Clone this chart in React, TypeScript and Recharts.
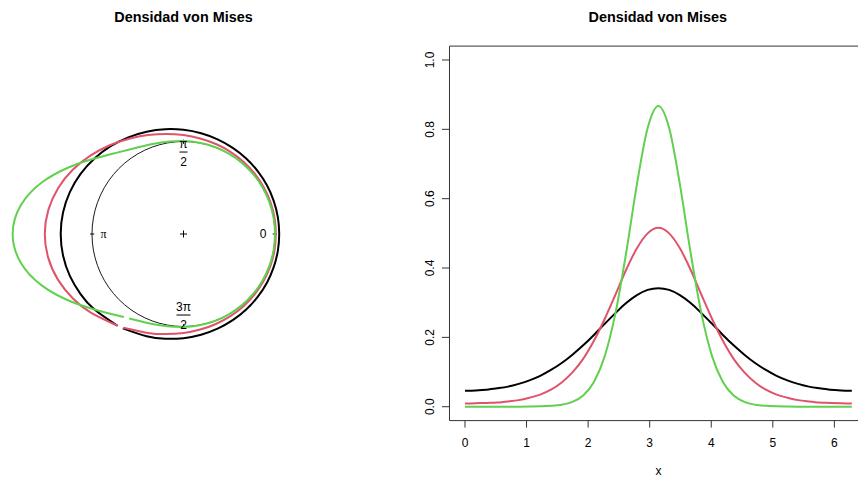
import {
  LineChart,
  Line,
  XAxis,
  YAxis,
  ReferenceArea,
  ReferenceDot,
  ReferenceLine,
} from "recharts";

// angles (degrees) where the densities were read, 0..360 every 10°
const DEG = [
  0, 10, 20, 30, 40, 50, 60, 70, 80, 90, 100, 110, 120, 130, 140, 150, 160, 170,
  180, 190, 200, 210, 220, 230, 240, 250, 260, 270, 280, 290, 300, 310, 320,
  330, 340, 350, 360,
];

// von Mises densities, mu = pi (black, red, green curves)
const DENS_BLACK = [
  0.046, 0.047, 0.049, 0.053, 0.058, 0.066, 0.076, 0.089, 0.106, 0.126, 0.15,
  0.177, 0.207, 0.239, 0.27, 0.299, 0.322, 0.337, 0.342, 0.337, 0.322, 0.299,
  0.27, 0.239, 0.207, 0.177, 0.15, 0.126, 0.106, 0.089, 0.076, 0.066, 0.058,
  0.053, 0.049, 0.047, 0.046,
];
const DENS_RED = [
  0.009, 0.01, 0.011, 0.012, 0.015, 0.019, 0.026, 0.035, 0.049, 0.07, 0.099,
  0.138, 0.19, 0.253, 0.323, 0.395, 0.457, 0.5, 0.516, 0.5, 0.457, 0.395, 0.323,
  0.253, 0.19, 0.138, 0.099, 0.07, 0.049, 0.035, 0.026, 0.019, 0.015, 0.012,
  0.011, 0.01, 0.009,
];
const DENS_GREEN = [
  0.0, 0.0, 0.0001, 0.0001, 0.0001, 0.0002, 0.0005, 0.0011, 0.0025, 0.0058,
  0.0139, 0.0323, 0.0712, 0.1453, 0.2692, 0.4438, 0.6414, 0.8037, 0.8671,
  0.8037, 0.6414, 0.4438, 0.2692, 0.1453, 0.0712, 0.0323, 0.0139, 0.0058,
  0.0025, 0.0011, 0.0005, 0.0002, 0.0001, 0.0001, 0.0001, 0.0, 0.0,
];

// the circular curves are open: a small gap between 234° and 237°
const GAP_DEG = [234, 237];
const GAP_BLACK = [0.226, 0.217];
const GAP_RED = [0.226, 0.208];
const GAP_GREEN = [0.11, 0.089];

const X_TICKS = [0, 1, 2, 3, 4, 5, 6];
const Y_TICKS = [0, 0.2, 0.4, 0.6, 0.8, 1.0];

const TITLE = "Densidad von Mises";
const BLACK = "#000000";
const RED = "#DF536B";
const GREEN = "#61D04F";
const FONT = '"Liberation Sans", Arial, Helvetica, sans-serif';
const SERIF = '"Liberation Serif", "DejaVu Serif", serif';

const rad = (d: number) => (d * Math.PI) / 180;

// right panel rows
const rows = DEG.map((d, i) => ({
  x: rad(d),
  black: DENS_BLACK[i],
  red: DENS_RED[i],
  green: DENS_GREEN[i],
}));

// left panel: density drawn at radius 1 + f(theta)
const polar = (dens: number[], gap: number[]) => {
  const pts = [{ deg: GAP_DEG[1], d: gap[1] }];
  DEG.forEach((deg, i) => {
    if (deg >= 250) pts.push({ deg, d: dens[i] });
  });
  DEG.forEach((deg, i) => {
    if (deg >= 10 && deg <= 220) pts.push({ deg, d: dens[i] });
  });
  pts.push({ deg: GAP_DEG[0], d: gap[0] });
  return pts.map((p) => ({
    x: (1 + p.d) * Math.cos(rad(p.deg)),
    y: (1 + p.d) * Math.sin(rad(p.deg)),
  }));
};
const unitCircle = DEG.map((d) => ({ x: Math.cos(rad(d)), y: Math.sin(rad(d)) }));
const blackPolar = polar(DENS_BLACK, GAP_BLACK);
const redPolar = polar(DENS_RED, GAP_RED);
const greenPolar = polar(DENS_GREEN, GAP_GREEN);

// left panel geometry (px)
const L_W = 420;
const L_H = 477;
const L_CX = 183.5;
const L_CY = 234;
const UX = 91.5;
const UY = 92.5;
const LX_DOMAIN = [-L_CX / UX, (L_W - L_CX) / UX];
const LY_DOMAIN = [-(L_H - L_CY) / UY, L_CY / UY];

const Plus = (p: any) => (
  <path
    d={`M${p.cx - 3.5},${p.cy}h7M${p.cx},${p.cy - 3.5}v7`}
    stroke="#000"
    strokeWidth={1}
  />
);

const makeLabel = (txt: string, serif: boolean) => (p: any) => (
  <text
    x={p.cx}
    y={p.cy}
    dy="0.35em"
    textAnchor="middle"
    fontSize={12}
    fontFamily={serif ? SERIF : FONT}
    fill="#000"
  >
    {txt}
  </text>
);

const makeFrac = (num: string, barW: number) => (p: any) => (
  <g>
    <text
      x={p.cx}
      y={p.cy - 4.5}
      textAnchor="middle"
      fontSize={12}
      fontFamily={FONT}
      fill="#000"
    >
      {num}
    </text>
    <line
      x1={p.cx - barW / 2}
      x2={p.cx + barW / 2}
      y1={p.cy}
      y2={p.cy}
      stroke="#000"
      strokeWidth={1}
    />
    <text
      x={p.cx}
      y={p.cy + 13.5}
      textAnchor="middle"
      fontSize={12}
      fontFamily={FONT}
      fill="#000"
    >
      2
    </text>
  </g>
);

const YTick = (p: any) => (
  <text
    x={p.x}
    y={p.y}
    transform={`rotate(-90 ${p.x} ${p.y})`}
    textAnchor="middle"
    fontSize={12}
    fontFamily={FONT}
    fill="#000"
  >
    {Number(p.payload.value).toFixed(1)}
  </text>
);

// right panel geometry
const X_MIN = -0.04 * 2 * Math.PI;
const X_MAX = 2 * Math.PI * 1.04;
const Y_MIN = -0.04;
const Y_MAX = 1.04;

export default function App() {
  return (
    <div
      style={{
        position: "absolute",
        left: 0,
        top: 0,
        width: 858,
        height: 477,
        overflow: "hidden",
        background: "#fff",
        fontFamily: FONT,
      }}
    >
      <div style={{ position: "absolute", left: 0, top: 0 }}>
        <LineChart
          width={L_W}
          height={L_H}
          margin={{ top: 0, right: 0, bottom: 0, left: 0 }}
        >
          <XAxis
            type="number"
            dataKey="x"
            domain={LX_DOMAIN}
            allowDataOverflow
            hide
          />
          <YAxis
            type="number"
            dataKey="y"
            domain={LY_DOMAIN}
            allowDataOverflow
            hide
          />
          <ReferenceLine
            segment={[
              { x: 0.975, y: 0 },
              { x: 1.02, y: 0 },
            ]}
            stroke="#000"
          />
          <ReferenceLine
            segment={[
              { x: -1.02, y: 0 },
              { x: -0.975, y: 0 },
            ]}
            stroke="#000"
          />
          <ReferenceLine
            segment={[
              { x: 0, y: 0.975 },
              { x: 0, y: 1.02 },
            ]}
            stroke="#000"
          />
          <ReferenceLine
            segment={[
              { x: 0, y: -1.02 },
              { x: 0, y: -0.975 },
            ]}
            stroke="#000"
          />
          <ReferenceDot x={0} y={0} r={1} shape={Plus} />
          <ReferenceDot x={0.87} y={0} r={1} shape={makeLabel("0", false)} />
          <ReferenceDot x={-0.873} y={0} r={1} shape={makeLabel("π", true)} />
          <ReferenceDot x={0} y={0.886} r={1} shape={makeFrac("π", 8)} />
          <ReferenceDot x={0} y={-0.876} r={1} shape={makeFrac("3π", 14)} />
          <Line
            data={unitCircle}
            dataKey="y"
            type="natural"
            stroke="#000"
            strokeWidth={0.9}
            dot={false}
            activeDot={false}
            isAnimationActive={false}
          />
          <Line
            data={blackPolar}
            dataKey="y"
            type="natural"
            stroke={BLACK}
            strokeWidth={2}
            dot={false}
            activeDot={false}
            isAnimationActive={false}
          />
          <Line
            data={redPolar}
            dataKey="y"
            type="natural"
            stroke={RED}
            strokeWidth={2}
            dot={false}
            activeDot={false}
            isAnimationActive={false}
          />
          <Line
            data={greenPolar}
            dataKey="y"
            type="natural"
            stroke={GREEN}
            strokeWidth={2}
            dot={false}
            activeDot={false}
            isAnimationActive={false}
          />
        </LineChart>
      </div>

      <div style={{ position: "absolute", left: 420, top: 0 }}>
        <LineChart
          width={447.3}
          height={477}
          data={rows}
          margin={{ top: 46.1, right: 0, bottom: 0, left: 0 }}
        >
          <XAxis
            type="number"
            dataKey="x"
            domain={[X_MIN, X_MAX]}
            allowDataOverflow
            ticks={X_TICKS}
            interval={0}
            height={56.4}
            axisLine={false}
            tickLine={{ stroke: "#333" }}
            tickSize={7}
            tickMargin={10.5}
            tick={{ fontSize: 12, fill: "#000", fontFamily: FONT }}
            label={{
              value: "x",
              position: "insideBottom",
              offset: 2,
              fill: "#000",
              fontSize: 12,
              fontFamily: FONT,
            }}
          />
          <YAxis
            type="number"
            domain={[Y_MIN, Y_MAX]}
            allowDataOverflow
            ticks={Y_TICKS}
            interval={0}
            width={29.5}
            axisLine={false}
            tickLine={{ stroke: "#333" }}
            tickSize={7.5}
            tickMargin={8}
            tick={YTick}
          />
          <ReferenceArea
            x1={X_MIN}
            x2={X_MAX}
            y1={Y_MIN}
            y2={Y_MAX}
            fill="none"
            stroke="#333"
            strokeWidth={1}
          />
          <Line
            type="monotone"
            dataKey="black"
            stroke={BLACK}
            strokeWidth={2}
            dot={false}
            activeDot={false}
            isAnimationActive={false}
          />
          <Line
            type="monotone"
            dataKey="red"
            stroke={RED}
            strokeWidth={2}
            dot={false}
            activeDot={false}
            isAnimationActive={false}
          />
          <Line
            type="monotone"
            dataKey="green"
            stroke={GREEN}
            strokeWidth={2}
            dot={false}
            activeDot={false}
            isAnimationActive={false}
          />
        </LineChart>
      </div>

      <svg
        width={858}
        height={477}
        style={{ position: "absolute", left: 0, top: 0, pointerEvents: "none" }}
      >
        <text
          x={183.5}
          y={22.3}
          textAnchor="middle"
          fontSize={14.4}
          fontWeight="bold"
          fontFamily={FONT}
          fill="#000"
        >
          {TITLE}
        </text>
        <text
          x={657.8}
          y={22.3}
          textAnchor="middle"
          fontSize={14.4}
          fontWeight="bold"
          fontFamily={FONT}
          fill="#000"
        >
          {TITLE}
        </text>
      </svg>
    </div>
  );
}
